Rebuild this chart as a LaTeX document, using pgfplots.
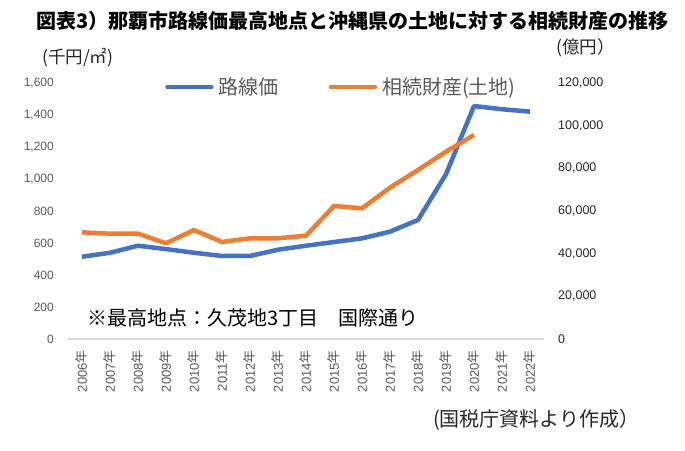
\documentclass[border=0pt]{standalone}
\usepackage{fontspec}
\setmainfont{Noto Sans CJK JP}
\newfontfamily\jp{Noto Sans CJK JP}
\newfontfamily\numfont{Liberation Sans}
\usepackage{pgfplots}
\pgfplotsset{compat=1.18}
\definecolor{cblue}{HTML}{4472C4}
\definecolor{corange}{HTML}{ED7D31}
\definecolor{tgray}{HTML}{595959}
\definecolor{lgray}{HTML}{D9D9D9}
\begin{document}
\begin{tikzpicture}
\useasboundingbox (0bp,0bp) rectangle (685bp,-451bp);
\begin{axis}[
  at={(68bp,-339bp)}, anchor=south west,
  scale only axis, width=476bp, height=256bp,
  xmin=-0.5, xmax=16.5, ymin=0, ymax=1600,
  clip=false, scaled y ticks=false,
  axis x line*=bottom, axis y line*=left,
  y axis line style={draw=none},
  x axis line style={lgray, line width=1.5bp},
  major tick length=0pt,
  xtick={0,...,16},
  xticklabels={2006{\jp 年},2007{\jp 年},2008{\jp 年},2009{\jp 年},2010{\jp 年},2011{\jp 年},2012{\jp 年},2013{\jp 年},2014{\jp 年},2015{\jp 年},2016{\jp 年},2017{\jp 年},2018{\jp 年},2019{\jp 年},2020{\jp 年},2021{\jp 年},2022{\jp 年}},
  x tick label style={font=\numfont\fontsize{13bp}{13bp}\selectfont, text=tgray, rotate=90, anchor=east, inner sep=0pt},
  xticklabel shift=11bp,
  ytick={0,200,400,600,800,1000,1200,1400,1600},
  yticklabels={0,200,400,600,800,{1,000},{1,200},{1,400},{1,600}},
  y tick label style={font=\numfont\fontsize{12bp}{12bp}\selectfont, text=tgray, anchor=east, inner sep=0pt},
  yticklabel shift=14bp,
  legend columns=2,
  legend style={at={(axis description cs:0.2038,0.984)}, anchor=west, draw=none, fill=none, inner sep=0pt,
    font=\fontsize{20bp}{24bp}\selectfont, text=tgray,
    /tikz/column sep=5bp, /tikz/every even column/.append style={column sep=50bp},
    nodes={inner sep=0pt}},
  legend image code/.code={\draw[#1, line cap=round] (2bp,0bp) -- (46bp,0bp);},
]
\addplot[cblue, line width=4.5bp, line join=round] coordinates {
(0,514) (1,539) (2,583) (3,562) (4,539) (5,519) (6,519) (7,558) (8,583) (9,606) (10,629) (11,671) (12,744) (13,1030) (14,1456) (15,1436) (16,1421)};
\addlegendentry{路線価}
\addlegendimage{corange, line width=4.5bp}
\addlegendentry{相続財産(土地)}
\end{axis}
\begin{axis}[
  at={(68bp,-339bp)}, anchor=south west,
  scale only axis, width=476bp, height=256bp,
  xmin=-0.5, xmax=16.5, ymin=0, ymax=120000,
  clip=false, scaled y ticks=false,
  axis x line=none, axis y line*=right,
  y axis line style={draw=none},
  xtick=\empty,
  major tick length=0pt,
  ytick={0,20000,40000,60000,80000,100000,120000},
  yticklabels={0,{20,000},{40,000},{60,000},{80,000},{100,000},{120,000}},
  y tick label style={font=\numfont\fontsize{12.5bp}{12.5bp}\selectfont, text=black!85, anchor=west, inner sep=0pt},
  yticklabel shift=14bp,
]
\addplot[corange, line width=4.5bp, line join=round] coordinates {
(0,50000) (1,49370) (2,49370) (3,44840) (4,51090) (5,45470) (6,47190) (7,47190) (8,48440) (9,62340) (10,61250) (11,70940) (12,79220) (13,87800) (14,95630)};
\end{axis}
\node[anchor=west, inner sep=0pt] at (36bp,-21bp) {\bfseries\fontsize{20bp}{24bp}\selectfont 図表3）那覇市路線価最高地点と沖縄県の土地に対する相続財産の推移};
\node[anchor=west, inner sep=0pt, text=black!85] at (42bp,-58bp) {\fontsize{17.5bp}{20bp}\selectfont (千円/㎡)};
\node[anchor=west, inner sep=0pt, text=black!85] at (556bp,-48bp) {\fontsize{17.5bp}{20bp}\selectfont (億円）};
\node[anchor=west, inner sep=0pt, text=black] at (87bp,-318bp) {\fontsize{20bp}{24bp}\selectfont ※最高地点：久茂地3丁目　国際通り};
\node[anchor=west, inner sep=0pt, text=black!85] at (433bp,-420bp) {\fontsize{20bp}{24bp}\selectfont (国税庁資料より作成）};
\end{tikzpicture}
\end{document}
